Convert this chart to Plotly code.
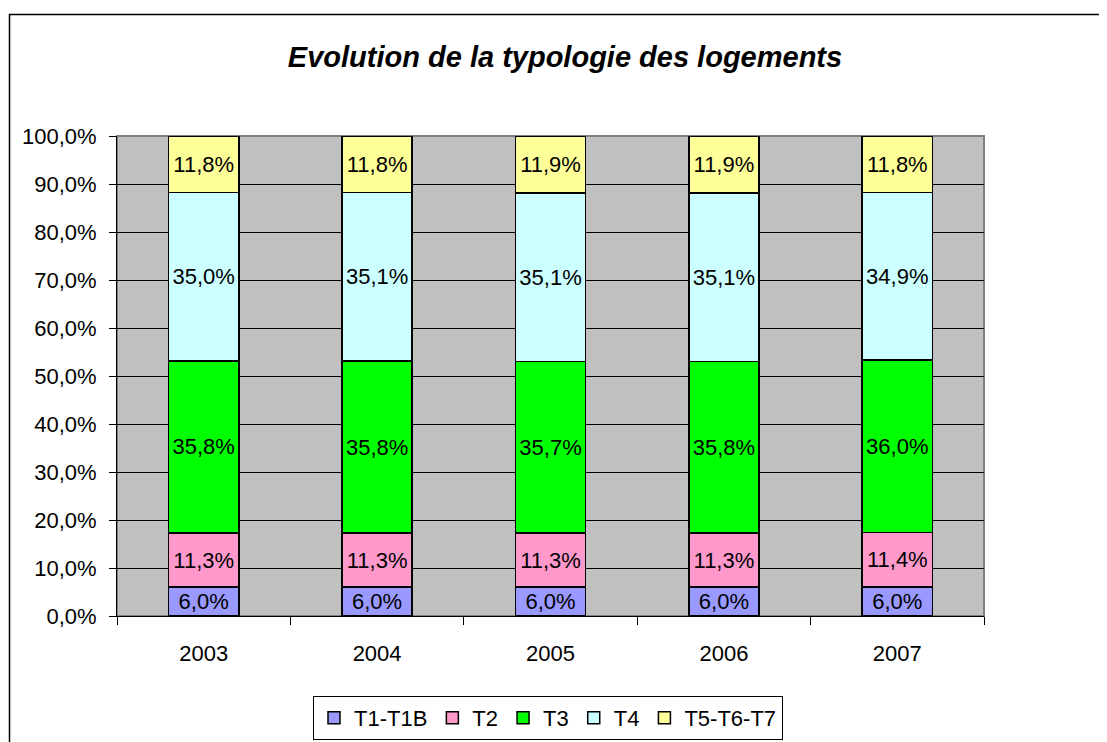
import plotly.graph_objects as go

years = ["2003", "2004", "2005", "2006", "2007"]
t1 = [6.0, 6.0, 6.0, 6.0, 6.0]
t2 = [11.3, 11.3, 11.3, 11.3, 11.4]
t3 = [35.8, 35.8, 35.7, 35.8, 36.0]
t4 = [35.0, 35.1, 35.1, 35.1, 34.9]
t5 = [11.8, 11.8, 11.9, 11.9, 11.8]

series = [("T1-T1B", t1, "#9999FF"), ("T2", t2, "#FF99CC"), ("T3", t3, "#00FF00"),
          ("T4", t4, "#CCFFFF"), ("T5-T6-T7", t5, "#FFFF99")]

OFF = 8                      # page body margin around the plot div
W, H = 1107 - OFF, 742 - OFF
# plot area, in figure px (screen px minus OFF)
L, R, T, B = 117 - OFF, 984 - OFF, 136 - OFF, 616 - OFF
FONT = "Liberation Sans, Arial, sans-serif"

def lab(v):
    return f"{v:.1f}".replace(".", ",") + "%"

def px(x):   # screen x -> paper x
    return (x - OFF - L) / (R - L)

def py(y):   # screen y -> paper y
    return (B - (y - OFF)) / (B - T)

fig = go.Figure()
for name, vals, col in series:
    fig.add_trace(go.Bar(x=years, y=vals, name=name,
                         marker=dict(color=col, line=dict(color="black", width=1.5)),
                         text=[lab(v) for v in vals], textposition="inside",
                         insidetextanchor="middle", textangle=0,
                         constraintext="none",
                         textfont=dict(size=22, color="black", family=FONT)))

fig.update_layout(
    width=W, height=H, barmode="stack", barnorm="percent", bargap=0.595,
    separators=", ",
    margin=dict(l=L, r=W - R, t=T, b=H - B, pad=0, autoexpand=False),
    paper_bgcolor="white", plot_bgcolor="#C0C0C0",
    font=dict(family=FONT, size=22, color="black"),
    title=dict(text="<b><i>Evolution de la typologie des logements</i></b>",
               x=(565 - OFF) / W, xanchor="center", y=1 - (57 - OFF) / H, yanchor="middle",
               font=dict(size=29, color="black", family=FONT)),
    showlegend=True,
    legend=dict(orientation="h", x=px(548), xanchor="center",
                y=py(696), yanchor="top",
                bordercolor="black", borderwidth=1, bgcolor="white",
                font=dict(size=22, family=FONT), traceorder="normal",
                itemwidth=30, tracegroupgap=0),
    shapes=[
        dict(type="rect", xref="paper", yref="paper",
             x0=px(9.5), x1=px(1120), y0=py(760), y1=py(14.5),
             line=dict(color="black", width=1.5), layer="below"),
        dict(type="rect", xref="paper", yref="paper", x0=0, x1=1, y0=0, y1=1,
             line=dict(color="#808080", width=2), layer="below"),
    ],
)
fig.update_xaxes(type="category", tickson="boundaries", ticks="outside", ticklen=8,
                 tickcolor="black", showline=True, linecolor="black", linewidth=1,
                 showgrid=False, tickfont=dict(size=22), ticklabelstandoff=18)
fig.update_yaxes(range=[0, 100], dtick=10, tickformat=".1f", ticksuffix="%",
                 ticks="outside", ticklen=7, tickcolor="black",
                 showline=True, linecolor="black", linewidth=1,
                 showgrid=True, gridcolor="black", gridwidth=1,
                 tickfont=dict(size=22), zeroline=False, ticklabelstandoff=8)

fig.write_html("out.html")
